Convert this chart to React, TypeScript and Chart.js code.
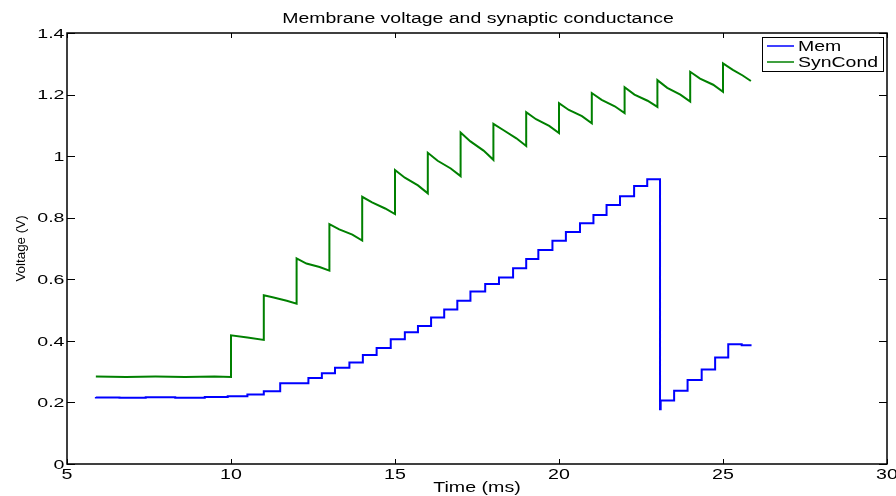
import { useEffect, useRef } from "react";
import { Chart, registerables } from "chart.js";

Chart.register(...registerables);

const chartTitle = "Membrane voltage and synaptic conductance";
const xAxisLabel = "Time (ms)";
const yAxisLabel = "Voltage (V)";
const seriesNames = ["Mem", "SynCond"];
const seriesColors = ["#0000ff", "#008000"];

const xTickValues = [5, 10, 15, 20, 25, 30];
const xTickLabels = ["5", "10", "15", "20", "25", "30"];
const yTickValues = [0, 0.2, 0.4, 0.6, 0.8, 1, 1.2, 1.4];
const yTickLabels = ["0", "0.2", "0.4", "0.6", "0.8", "1", "1.2", "1.4"];

// Membrane voltage: time at which each level starts, and the level (stepped trace)
const memTime = [
  5.88, 6.6, 7.4, 8.3, 9.2, 9.9, 10.5, 11.0, 11.5, 12.36, 12.77, 13.17, 13.61, 14.02,
  14.44, 14.87, 15.3, 15.7, 16.1, 16.5, 16.9, 17.3, 17.75, 18.17, 18.6, 19.0, 19.37,
  19.8, 20.21, 20.64, 21.05, 21.45, 21.86, 22.29, 22.69, 23.08, 23.1, 23.51, 23.92,
  24.35, 24.76, 25.16, 25.57, 25.87,
];
const memValue = [
  0.218, 0.216, 0.215, 0.217, 0.215, 0.218, 0.22, 0.226, 0.236, 0.262, 0.279, 0.295,
  0.313, 0.33, 0.354, 0.377, 0.405, 0.428, 0.448, 0.476, 0.502, 0.53, 0.56, 0.585,
  0.606, 0.636, 0.666, 0.695, 0.725, 0.754, 0.782, 0.809, 0.841, 0.87, 0.903, 0.925,
  0.178, 0.206, 0.238, 0.273, 0.307, 0.346, 0.389, 0.386,
];

// Synaptic conductance: sawtooth (jump at each spike, then decay)
const synTime = [
  5.88, 6.8, 7.7, 8.6, 9.5, 10.0,
  10.0, 10.5, 11.0,
  11.0, 11.3, 11.7, 12.0,
  12.0, 12.3, 12.7, 13.0,
  13.0, 13.3, 13.7, 14.0,
  14.0, 14.3, 14.7, 15.0,
  15.0, 15.3, 15.7, 16.0,
  16.0, 16.3, 16.7, 17.0,
  17.0, 17.3, 17.7, 18.0,
  18.0, 18.3, 18.7, 19.0,
  19.0, 19.3, 19.7, 20.0,
  20.0, 20.3, 20.7, 21.0,
  21.0, 21.3, 21.7, 22.0,
  22.0, 22.3, 22.7, 23.0,
  23.0, 23.3, 23.7, 24.0,
  24.0, 24.3, 24.7, 25.0,
  25.0, 25.3, 25.6, 25.85,
];
const synValue = [
  0.284, 0.283, 0.284, 0.283, 0.284, 0.283,
  0.418, 0.411, 0.403,
  0.548, 0.541, 0.53, 0.521,
  0.668, 0.651, 0.64, 0.628,
  0.779, 0.762, 0.745, 0.726,
  0.868, 0.85, 0.83, 0.812,
  0.955, 0.93, 0.905, 0.879,
  1.011, 0.985, 0.96, 0.935,
  1.077, 1.048, 1.018, 0.988,
  1.105, 1.085, 1.058, 1.033,
  1.143, 1.12, 1.098, 1.075,
  1.172, 1.15, 1.13, 1.107,
  1.205, 1.183, 1.162, 1.14,
  1.224, 1.2, 1.18, 1.16,
  1.247, 1.222, 1.2, 1.177,
  1.274, 1.252, 1.232, 1.209,
  1.301, 1.28, 1.262, 1.244,
];

const FONT = "'Liberation Sans', Arial, Helvetica, sans-serif";
const STRETCH = 1.4;

function drawText(
  ctx: CanvasRenderingContext2D,
  text: string,
  x: number,
  y: number,
  size: number,
  stretch: number,
  align: CanvasTextAlign,
  baseline: CanvasTextBaseline,
  rotate = 0
) {
  ctx.save();
  ctx.translate(x, y);
  if (rotate) ctx.rotate(rotate);
  ctx.scale(stretch, 1);
  ctx.font = `${size}px ${FONT}`;
  ctx.fillStyle = "#000";
  ctx.textAlign = align;
  ctx.textBaseline = baseline;
  ctx.fillText(text, 0, 0);
  ctx.restore();
}

const decorPlugin = {
  id: "matlabDecor",
  afterDatasetsDraw(chart: any) {
    const ctx: CanvasRenderingContext2D = chart.ctx;
    const a = chart.chartArea;
    const xs = chart.scales.x;
    const ys = chart.scales.y;
    ctx.save();

    // inward ticks on all four sides
    ctx.strokeStyle = "#000";
    ctx.lineWidth = 1;
    ctx.beginPath();
    xTickValues.forEach((v) => {
      const px = Math.round(xs.getPixelForValue(v)) + 0.5;
      ctx.moveTo(px, a.bottom);
      ctx.lineTo(px, a.bottom - 5);
      ctx.moveTo(px, a.top);
      ctx.lineTo(px, a.top + 5);
    });
    yTickValues.forEach((v) => {
      const py = Math.round(ys.getPixelForValue(v)) + 0.5;
      ctx.moveTo(a.left, py);
      ctx.lineTo(a.left + 8, py);
      ctx.moveTo(a.right, py);
      ctx.lineTo(a.right - 8, py);
    });
    ctx.stroke();

    // axes box
    ctx.lineWidth = 1.5;
    ctx.strokeRect(a.left, a.top, a.right - a.left, a.bottom - a.top);

    // tick labels
    xTickValues.forEach((v, i) => {
      drawText(ctx, xTickLabels[i], xs.getPixelForValue(v), a.bottom + 15, 14, STRETCH, "center", "alphabetic");
    });
    yTickValues.forEach((v, i) => {
      drawText(ctx, yTickLabels[i], a.left - 2.5, ys.getPixelForValue(v) + 1, 13.5, 1.45, "right", "middle");
    });

    // title and axis labels
    const cx = (a.left + a.right) / 2;
    drawText(ctx, chartTitle, cx + 1, 23.3, 14, 1.39, "center", "alphabetic");
    drawText(ctx, xAxisLabel, cx, 492, 14, STRETCH, "center", "alphabetic");
    drawText(ctx, yAxisLabel, 21, (a.top + a.bottom) / 2, 13, 1.03, "center", "middle", -Math.PI / 2);

    // legend
    const lx = 762, ly = 37, lw = 121, lh = 34;
    ctx.fillStyle = "#fff";
    ctx.fillRect(lx, ly, lw, lh);
    ctx.strokeStyle = "#000";
    ctx.lineWidth = 1;
    ctx.strokeRect(lx + 0.5, ly + 0.5, lw, lh);
    chart.data.datasets.forEach((ds: any, i: number) => {
      const y = 46 + i * 16;
      ctx.strokeStyle = ds.borderColor;
      ctx.lineWidth = 1.5;
      ctx.beginPath();
      ctx.moveTo(767, y);
      ctx.lineTo(794, y);
      ctx.stroke();
      drawText(ctx, ds.label, 798, y + 5, 14, 1.39, "left", "alphabetic");
    });

    ctx.restore();
  },
};

export default function App() {
  const canvasRef = useRef<HTMLCanvasElement | null>(null);

  useEffect(() => {
    const canvas = canvasRef.current;
    if (!canvas) return;
    const chart = new Chart(canvas, {
      type: "line",
      data: {
        datasets: [
          {
            label: seriesNames[0],
            data: memTime.map((t, i) => ({ x: t, y: memValue[i] })),
            borderColor: seriesColors[0],
            backgroundColor: seriesColors[0],
            borderWidth: 2,
            pointRadius: 0,
            stepped: "after",
            fill: false,
          },
          {
            label: seriesNames[1],
            data: synTime.map((t, i) => ({ x: t, y: synValue[i] })),
            borderColor: seriesColors[1],
            backgroundColor: seriesColors[1],
            borderWidth: 2,
            pointRadius: 0,
            tension: 0,
            fill: false,
          },
        ],
      },
      options: {
        responsive: false,
        animation: false,
        devicePixelRatio: 1,
        events: [],
        layout: { padding: { left: 67, right: 9, top: 33, bottom: 32 } },
        scales: {
          x: { type: "linear", min: 5, max: 30, display: false },
          y: { type: "linear", min: 0, max: 1.4, display: false },
        },
        plugins: {
          legend: { display: false },
          tooltip: { enabled: false },
          title: { display: false },
        },
      },
      plugins: [decorPlugin],
    } as any);
    return () => chart.destroy();
  }, []);

  return (
    <div style={{ position: "fixed", left: 0, top: 0, width: 896, height: 496, background: "#fff" }}>
      <canvas ref={canvasRef} width={896} height={496} style={{ width: 896, height: 496, display: "block" }} />
    </div>
  );
}
